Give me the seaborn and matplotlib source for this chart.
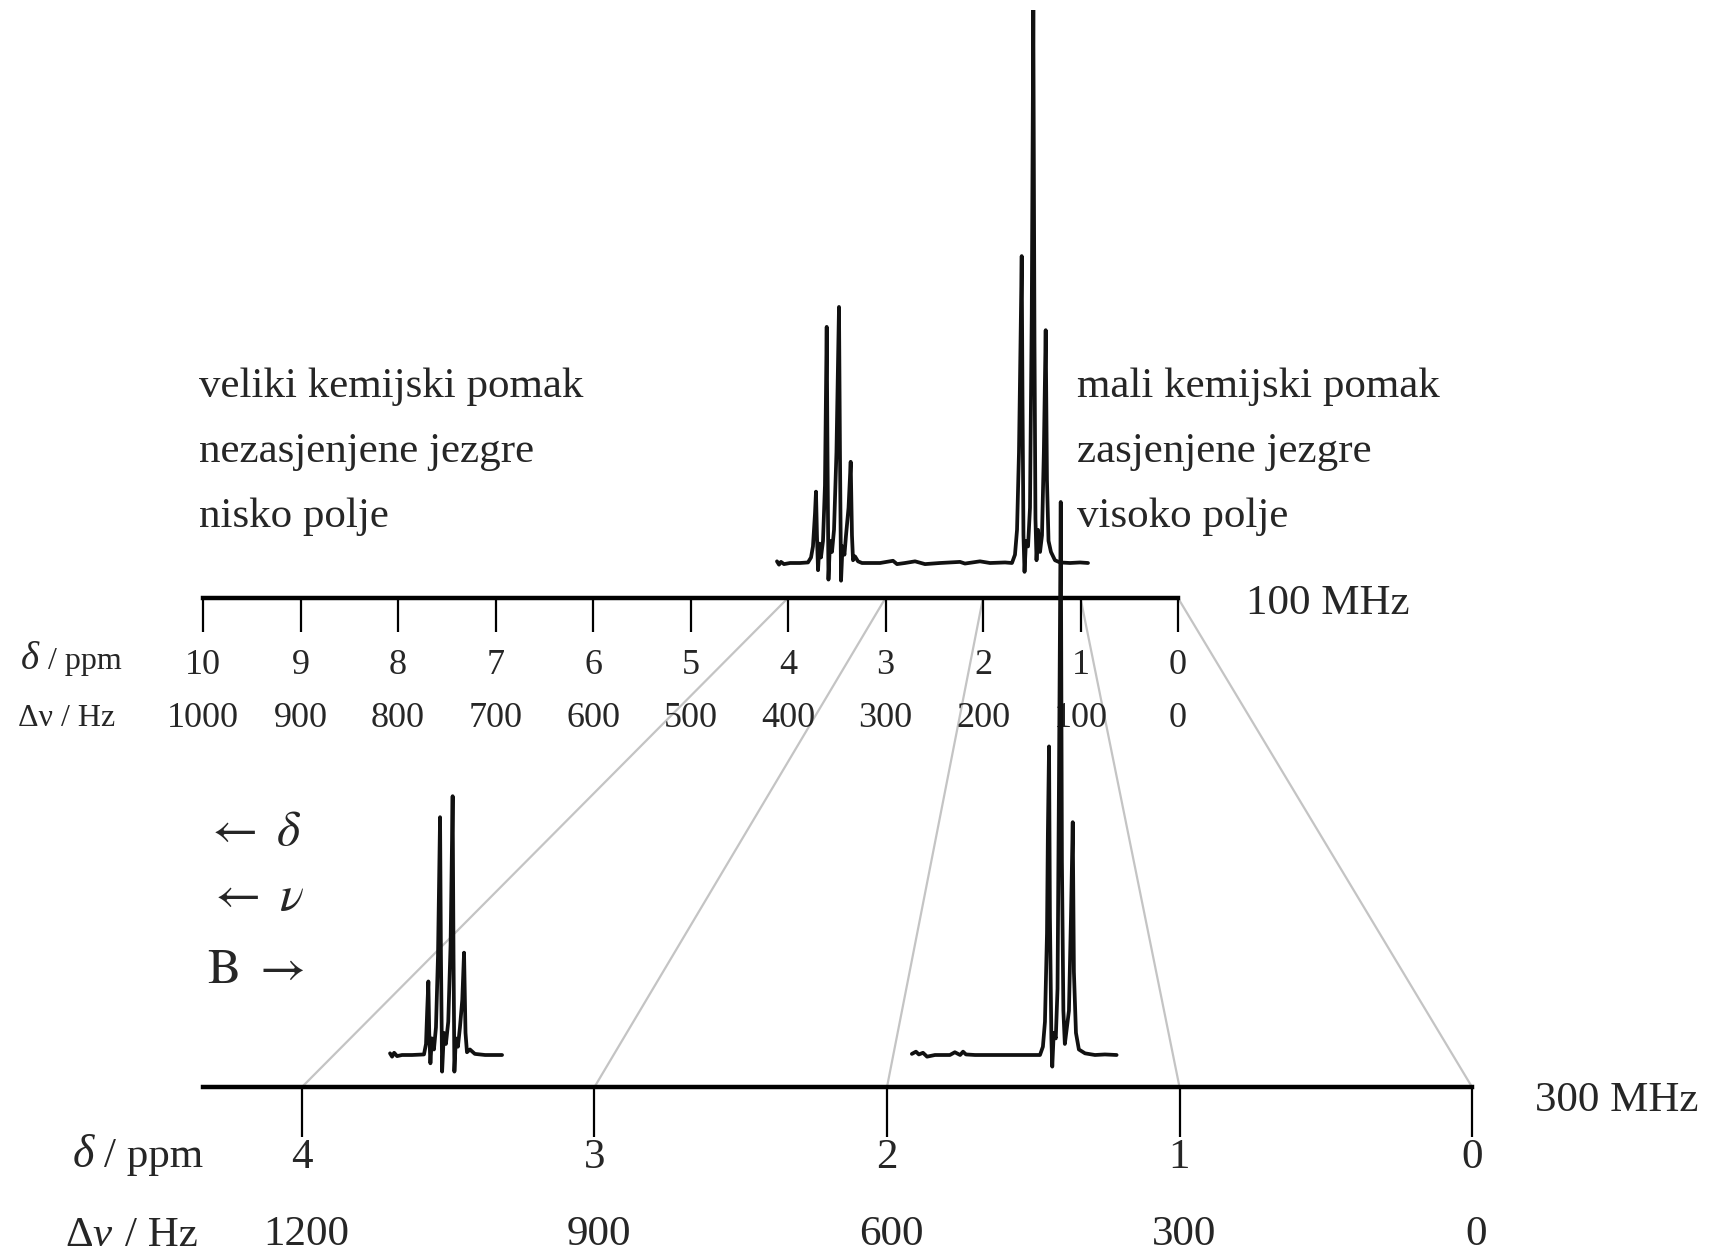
import matplotlib
matplotlib.use('Agg')
import matplotlib.pyplot as plt
from matplotlib.patches import ConnectionPatch
import seaborn as sns

# ---- data ----
top_ticks_ppm = [10, 9, 8, 7, 6, 5, 4, 3, 2, 1, 0]
top_ticks_hz = [1000, 900, 800, 700, 600, 500, 400, 300, 200, 100, 0]
bot_ticks_ppm = [4, 3, 2, 1, 0]
bot_ticks_hz = [1200, 900, 600, 300, 0]

# 100 MHz trace: chemical shift (ppm) and relative intensity (tallest line = 100)
top_ppm = [4.113, 4.092, 4.072, 4.041, 3.979, 3.877, 3.795, 3.764, 3.744, 3.723,
           3.713, 3.703, 3.692, 3.677, 3.662, 3.641, 3.621, 3.603, 3.595, 3.585,
           3.569, 3.549, 3.528, 3.503, 3.477, 3.467, 3.456, 3.441, 3.421, 3.405,
           3.379, 3.357, 3.344, 3.333, 3.313, 3.282, 3.241, 3.056, 2.923, 2.882,
           2.800, 2.697, 2.595, 2.441, 2.236, 2.185, 2.031, 1.928, 1.774, 1.703,
           1.672, 1.651, 1.631, 1.615, 1.603, 1.595, 1.585, 1.574, 1.559, 1.538,
           1.518, 1.500, 1.484, 1.472, 1.462, 1.451, 1.436, 1.415, 1.395, 1.376,
           1.357, 1.344, 1.328, 1.303, 1.262, 1.210, 1.108, 1.005, 0.923]
top_int = [0.3, -0.3, 0.2, -0.2, 0.0, 0.0, 0.1, 1.0, 3.0, 9.0,
           12.9, 5.0, -1.3, 3.5, 1.0, 4.0, 14.0, 42.7, 20.0, -3.0,
           4.0, 2.0, 6.0, 20.0, 46.3, 20.0, -3.2, 3.0, 1.5, 5.0,
           10.0, 18.3, 5.0, 0.5, 1.2, 0.3, 0.0, 0.0, 0.4, -0.2,
           0.0, 0.3, -0.2, 0.0, 0.2, -0.1, 0.3, 0.0, 0.1, 0.0,
           1.5, 6.0, 20.0, 40.0, 55.5, 30.0, 5.0, -1.6, 4.0, 3.0,
           10.0, 45.0, 100.0, 40.0, 8.0, 0.5, 6.0, 2.0, 5.0, 20.0,
           42.1, 15.0, 4.0, 2.0, 0.5, 0.1, 0.0, 0.1, 0.0]

# 300 MHz trace, quartet part
q300_ppm = [3.699, 3.692, 3.685, 3.675, 3.658, 3.624, 3.583, 3.576, 3.572, 3.568,
            3.565, 3.561, 3.556, 3.549, 3.542, 3.535, 3.528, 3.525, 3.521, 3.515,
            3.508, 3.500, 3.492, 3.485, 3.482, 3.479, 3.474, 3.467, 3.460, 3.452,
            3.446, 3.441, 3.436, 3.426, 3.409, 3.374, 3.316]
q300_int = [0.3, -0.3, 0.4, -0.2, 0.0, 0.0, 0.1, 2.0, 8.0, 13.3,
            4.0, -1.5, 3.0, 1.0, 5.0, 18.0, 43.0, 18.0, -3.0, 4.0,
            2.0, 6.0, 20.0, 46.8, 18.0, -3.0, 3.0, 1.5, 5.0, 10.0,
            18.5, 4.0, 0.5, 1.0, 0.2, 0.0, 0.0]

# 300 MHz trace, triplet part
t300_ppm = [1.915, 1.901, 1.891, 1.877, 1.863, 1.836, 1.785, 1.768, 1.750, 1.740,
            1.730, 1.699, 1.631, 1.545, 1.477, 1.467, 1.460, 1.453, 1.450, 1.446,
            1.443, 1.438, 1.435, 1.430, 1.423, 1.417, 1.412, 1.406, 1.402, 1.397,
            1.392, 1.385, 1.378, 1.371, 1.365, 1.361, 1.354, 1.344, 1.323, 1.289,
            1.255, 1.215]
t300_int = [0.2, 0.6, 0.1, 0.4, -0.3, 0.0, 0.0, 0.5, 0.0, 0.6,
            0.1, 0.0, 0.0, 0.0, 0.0, 1.5, 6.0, 22.0, 40.0, 55.8,
            25.0, 3.0, -2.1, 4.0, 3.0, 12.0, 50.0, 100.0, 35.0, 8.0,
            2.0, 5.0, 8.0, 25.0, 42.1, 15.0, 4.0, 1.0, 0.3, 0.0,
            0.1, 0.0]

# ---- layout (pixels of the 1709 x 1255 canvas) ----
W, H = 1709, 1255
PX_PER_UNIT = 5.53  # intensity unit in pixels

sns.set_theme(style='white')
plt.rcParams['font.family'] = ['Liberation Serif', 'DejaVu Serif']
plt.rcParams['mathtext.fontset'] = 'custom'
plt.rcParams['mathtext.rm'] = 'Liberation Serif'
plt.rcParams['mathtext.it'] = 'Liberation Serif:italic'

fig = plt.figure(figsize=(W / 100, H / 100), dpi=100)
fig.patch.set_facecolor('white')


def add_axes(left, right, bottom, top, base_gap):
    ax = fig.add_axes([left / W, 1 - bottom / H, (right - left) / W, (bottom - top) / H])
    ymin = -base_gap / PX_PER_UNIT
    ax.set_ylim(ymin, ymin + (bottom - top) / PX_PER_UNIT)
    ax.patch.set_visible(False)
    for s in ['left', 'right', 'top']:
        ax.spines[s].set_visible(False)
    ax.spines['bottom'].set_linewidth(3.2)
    ax.spines['bottom'].set_color('black')
    ax.set_yticks([])
    return ax


ax_top = add_axes(203, 1178, 598, 10, 35)
ax_top.set_xlim(10, 0)
ax_bot = add_axes(203, 1472, 1087, 487, 32)
ax_bot.set_xlim(4 + 99 / 292.5, 0)

sns.lineplot(x=top_ppm, y=top_int, ax=ax_top, color='#111111', lw=2.7,
             sort=False, estimator=None)
for xs, ys in [(q300_ppm, q300_int), (t300_ppm, t300_int)]:
    sns.lineplot(x=xs, y=ys, ax=ax_bot, color='#111111', lw=2.7,
                 sort=False, estimator=None)
for ln in ax_bot.lines:
    ln.set_clip_on(False)

# ticks
ax_top.set_xticks(top_ticks_ppm)
ax_top.set_xticklabels([])
ax_top.tick_params(axis='x', bottom=True, direction='out', length=24.5, width=1.6,
                   color='black', pad=0)
ax_bot.set_xticks(bot_ticks_ppm)
ax_bot.set_xticklabels([])
ax_bot.tick_params(axis='x', bottom=True, direction='out', length=36, width=1.6,
                   color='black', pad=0)

for p, hz in zip(top_ticks_ppm, top_ticks_hz):
    ax_top.annotate(str(p), xy=(p, 0), xycoords=('data', 'axes fraction'),
                    xytext=(0, -55), textcoords='offset points',
                    ha='center', va='baseline', fontsize=26)
    ax_top.annotate(str(hz), xy=(p, 0), xycoords=('data', 'axes fraction'),
                    xytext=(0, -93), textcoords='offset points',
                    ha='center', va='baseline', fontsize=26)
for p, hz in zip(bot_ticks_ppm, bot_ticks_hz):
    ax_bot.annotate(str(p), xy=(p, 0), xycoords=('data', 'axes fraction'),
                    xytext=(0, -58), textcoords='offset points',
                    ha='center', va='baseline', fontsize=31)
    ax_bot.annotate(str(hz), xy=(p, 0), xycoords=('data', 'axes fraction'),
                    xytext=(3, -114), textcoords='offset points',
                    ha='center', va='baseline', fontsize=31)

# grey connectors between the same shifts on both scales
for p in bot_ticks_ppm:
    con = ConnectionPatch(xyA=(p, 0), coordsA=ax_top.get_xaxis_transform(),
                          xyB=(p, 0), coordsB=ax_bot.get_xaxis_transform(),
                          color='#c4c4c4', lw=1.6, zorder=0)
    fig.add_artist(con)


def ftext(x, y, s, **kw):
    fig.text(x / W, 1 - y / H, s, va='baseline', **kw)


left_lines = ['veliki kemijski pomak', 'nezasjenjene jezgre', 'nisko polje']
right_lines = ['mali kemijski pomak', 'zasjenjene jezgre', 'visoko polje']
for i, (a, b) in enumerate(zip(left_lines, right_lines)):
    ftext(199, 397 + 65 * i, a, fontsize=31)
    ftext(1077, 397 + 65 * i, b, fontsize=31)

ftext(1246, 614, '100 MHz', fontsize=31)
ftext(1535, 1111, '300 MHz', fontsize=31)

ftext(20, 669, r'$\delta$', fontsize=28)
ftext(48, 669, '/ ppm', fontsize=23)
ftext(18, 726, 'Δν / Hz', fontsize=23)
ftext(72, 1167, r'$\delta$', fontsize=33)
ftext(104, 1167, '/ ppm', fontsize=31)
ftext(65, 1246, r'Δ$\nu$', fontsize=31)
ftext(125, 1246, '/ Hz', fontsize=31)

ftext(204, 845, r'$\leftarrow\ \delta$', fontsize=36, math_fontfamily='stix')
ftext(207, 910, r'$\leftarrow\ \nu$', fontsize=36, math_fontfamily='stix')
ftext(207, 983, r'$\mathrm{B}\ \rightarrow$', fontsize=36, math_fontfamily='stix')

fig.savefig('out.png', dpi=100, facecolor='white')
